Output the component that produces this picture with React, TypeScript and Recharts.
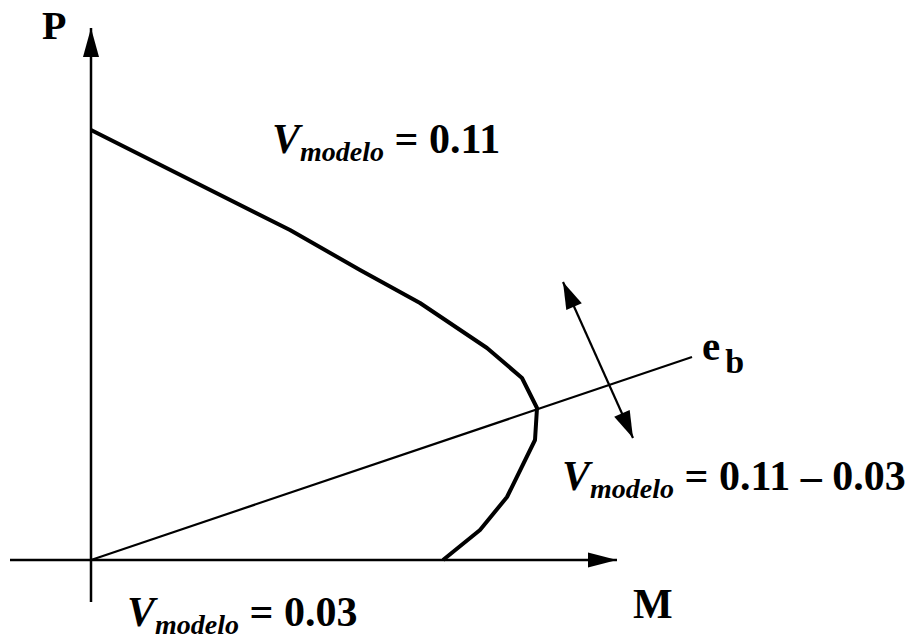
import { LineChart, Line, XAxis, YAxis, ReferenceDot } from "recharts";

// interaction diagram, units: M to the right, P upwards (origin at axes crossing)
const curveM = [0, 199, 269, 329, 396, 431, 446, 444, 416, 389, 352];
const curveP = [430, 330, 290, 257, 212, 182, 152, 120, 63, 30, 0];

const ebM = [0, 601];
const ebP = [0, 203];

const shiftM = [472, 542];
const shiftP = [278, 122];

const axisPM = [0, 0];
const axisPP = [-42, 532];
const axisMM = [-81, 526];
const axisMP = [0, 0];

const toRows = (ms: number[], ps: number[]) => ms.map((m, i) => ({ m, p: ps[i] }));

const curve = toRows(curveM, curveP);
const eb = toRows(ebM, ebP);
const shift = toRows(shiftM, shiftP);
const axisP = toRows(axisPM, axisPP);
const axisM = toRows(axisMM, axisMP);

const W = 912;
const H = 638;
const xDomain = [-91, 821];
const yDomain = [-78, 560];

const font = "'Liberation Serif', 'Times New Roman', serif";

type Row = { m: number; p: number };

// arrowhead drawn at the chosen end(s) of a series
function arrowDot(rows: Row[], ends: "end" | "both", len: number, wid: number) {
  return (props: any) => {
    const { cx, cy, index } = props;
    const last = rows.length - 1;
    const isEnd = index === last || (ends === "both" && index === 0);
    if (!isEnd || cx == null) return <g key={`a-${index}`} />;
    const other = index === 0 ? rows[1] : rows[last - 1];
    const cur = rows[index];
    // 1 data unit == 1px, y inverted
    let dx = cur.m - other.m;
    let dy = -(cur.p - other.p);
    const d = Math.hypot(dx, dy) || 1;
    dx /= d;
    dy /= d;
    const bx = cx - dx * len;
    const by = cy - dy * len;
    const px = -dy * (wid / 2);
    const py = dx * (wid / 2);
    return (
      <polygon
        key={`a-${index}`}
        points={`${cx},${cy} ${bx + px},${by + py} ${bx - px},${by - py}`}
        fill="#000"
        stroke="none"
      />
    );
  };
}

function VLabel({ cx, cy, tail }: { cx?: number; cy?: number; tail: string }) {
  return (
    <text x={cx} y={cy} fontFamily={font} fontWeight="bold" fontSize={42} fill="#000">
      <tspan fontStyle="italic">V</tspan>
      <tspan fontStyle="italic" fontSize={28} dy={8}>
        modelo
      </tspan>
      <tspan dy={-8}>{tail}</tspan>
    </text>
  );
}

function PlainLabel({ cx, cy, text, size }: { cx?: number; cy?: number; text: string; size: number }) {
  return (
    <text x={cx} y={cy} fontFamily={font} fontWeight="bold" fontSize={size} fill="#000">
      {text}
    </text>
  );
}

function EbLabel({ cx, cy }: { cx?: number; cy?: number }) {
  return (
    <text x={cx} y={cy} fontFamily={font} fontWeight="bold" fill="#000">
      <tspan fontSize={41}>e</tspan>
      <tspan fontSize={34} dx={5} dy={13}>
        b
      </tspan>
    </text>
  );
}

export default function App() {
  return (
    <div style={{ position: "absolute", left: 0, top: 0, width: W, height: H, background: "#fff" }}>
      <LineChart width={W} height={H} margin={{ top: 0, right: 0, bottom: 0, left: 0 }}>
        <XAxis type="number" dataKey="m" domain={xDomain} hide allowDataOverflow />
        <YAxis type="number" dataKey="p" domain={yDomain} hide allowDataOverflow />

        <Line data={axisP} dataKey="p" stroke="#000" strokeWidth={2.5} dot={arrowDot(axisP, "end", 29, 16)} activeDot={false} isAnimationActive={false} />
        <Line data={axisM} dataKey="p" stroke="#000" strokeWidth={2.5} dot={arrowDot(axisM, "end", 29, 15)} activeDot={false} isAnimationActive={false} />
        <Line data={eb} dataKey="p" stroke="#000" strokeWidth={2.2} dot={false} activeDot={false} isAnimationActive={false} />
        <Line data={shift} dataKey="p" stroke="#000" strokeWidth={2.2} dot={arrowDot(shift, "both", 27, 17)} activeDot={false} isAnimationActive={false} />
        <Line
          data={curve}
          dataKey="p"
          stroke="#000"
          strokeWidth={4}
          strokeLinejoin="round"
          dot={false}
          activeDot={false}
          isAnimationActive={false}
        />

        <ReferenceDot x={-49} y={521} r={0} shape={(p: any) => <PlainLabel cx={p.cx} cy={p.cy} text="P" size={40} />} />
        <ReferenceDot x={542} y={-58} r={0} shape={(p: any) => <PlainLabel cx={p.cx} cy={p.cy} text="M" size={42} />} />
        <ReferenceDot x={611} y={200} r={0} shape={(p: any) => <EbLabel cx={p.cx} cy={p.cy} />} />
        <ReferenceDot x={181} y={407} r={0} shape={(p: any) => <VLabel cx={p.cx} cy={p.cy} tail=" = 0.11" />} />
        <ReferenceDot x={471} y={70} r={0} shape={(p: any) => <VLabel cx={p.cx} cy={p.cy} tail=" = 0.11 – 0.03" />} />
        <ReferenceDot x={36} y={-66} r={0} shape={(p: any) => <VLabel cx={p.cx} cy={p.cy} tail=" = 0.03" />} />
      </LineChart>
    </div>
  );
}
